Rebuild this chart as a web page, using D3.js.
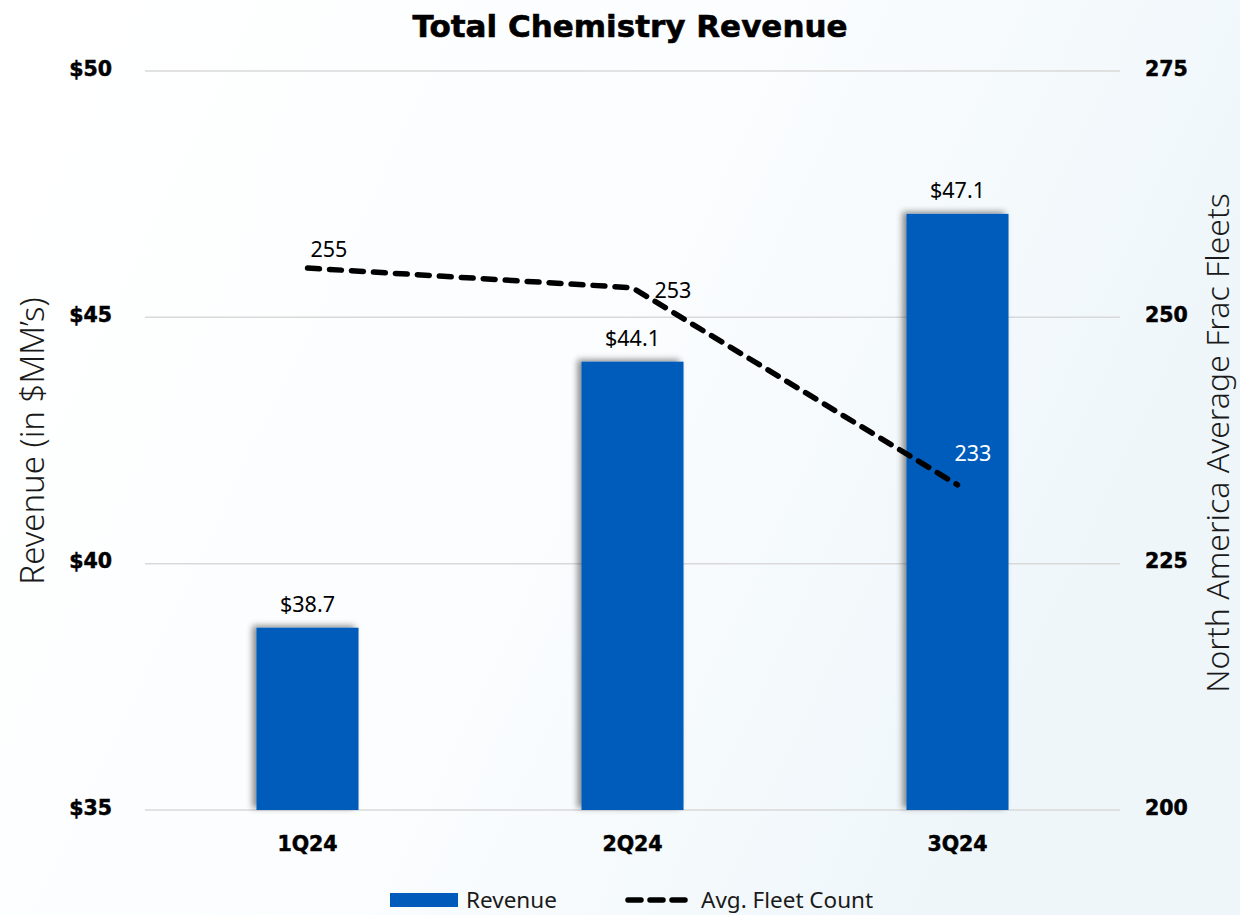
<!DOCTYPE html>
<html>
<head>
<meta charset="utf-8">
<script src="https://cdn.jsdelivr.net/npm/d3@7/dist/d3.min.js"></script>
<style>
  html, body { margin: 0; padding: 0; }
  body { width: 1240px; height: 915px; overflow: hidden; }
</style>
</head>
<body>
<svg id="chart" width="1240" height="915"></svg>
<script>
// Quarterly chemistry revenue ($MM) and North America average frac fleet count
const quarters = ["1Q24", "2Q24", "3Q24"];
const revenue = [38.7, 44.1, 47.1];
const fleetCount = [255, 253, 233];
const revenueTicks = [35, 40, 45, 50];
const fleetTicks = [200, 225, 250, 275];

const svg = d3.select("#chart");
const W = 1240, H = 915;
const m = { left: 145, right: 1120, top: 71, bottom: 810 };

const defs = svg.append("defs");
const bg = defs.append("linearGradient").attr("id", "bg")
  .attr("x1", "0").attr("y1", "0").attr("x2", "1").attr("y2", "0.35");
bg.append("stop").attr("offset", "0").attr("stop-color", "#ffffff");
bg.append("stop").attr("offset", "0.55").attr("stop-color", "#fbfdfe");
bg.append("stop").attr("offset", "1").attr("stop-color", "#eef6fa");

const shadow = defs.append("filter").attr("id", "barShadow")
  .attr("x", "-20%").attr("y", "-10%").attr("width", "140%").attr("height", "120%");
shadow.append("feDropShadow").attr("dx", -4).attr("dy", -2)
  .attr("stdDeviation", 3).attr("flood-color", "#000").attr("flood-opacity", 0.45);

svg.append("rect").attr("width", W).attr("height", H).attr("fill", "url(#bg)");

const x = d3.scaleBand().domain(quarters).range([m.left, m.right]).paddingInner(0.686).paddingOuter(0.343);
const yL = d3.scaleLinear().domain([35, 50]).range([m.bottom, m.top]);
const yR = d3.scaleLinear().domain([200, 275]).range([m.bottom, m.top]);

const tickFont = "'DejaVu Sans', 'Lato', sans-serif";
const labelFont = "'Noto Sans', 'Open Sans', sans-serif";

// Gridlines
svg.append("g").selectAll("line").data(revenueTicks).join("line")
  .attr("x1", m.left).attr("x2", m.right)
  .attr("y1", d => yL(d)).attr("y2", d => yL(d))
  .attr("stroke", "#d9d9d9").attr("stroke-width", 1.5);

// Left axis
const leftAxis = svg.append("g").attr("transform", `translate(${m.left},0)`)
  .call(d3.axisLeft(yL).tickValues(revenueTicks).tickFormat(d => "$" + d).tickSize(0).tickPadding(33));
leftAxis.select(".domain").remove();
leftAxis.selectAll("text").attr("font-family", tickFont).attr("font-weight", 700)
  .attr("font-size", 20.5).attr("fill", "#000").attr("dy", "0.2em")
  .attr("stroke", "#000").attr("stroke-width", 0.5);

// Right axis
const rightAxis = svg.append("g").attr("transform", `translate(${m.right},0)`)
  .call(d3.axisRight(yR).tickValues(fleetTicks).tickSize(0).tickPadding(25));
rightAxis.select(".domain").remove();
rightAxis.selectAll("text").attr("font-family", tickFont).attr("font-weight", 700)
  .attr("font-size", 20.5).attr("fill", "#000").attr("dy", "0.2em")
  .attr("stroke", "#000").attr("stroke-width", 0.5);

// Bottom axis
const bottomAxis = svg.append("g").attr("transform", `translate(0,${m.bottom})`)
  .call(d3.axisBottom(x).tickSize(0).tickPadding(26));
bottomAxis.select(".domain").remove();
bottomAxis.selectAll("text").attr("font-family", tickFont).attr("font-weight", 700)
  .attr("font-size", 20.5).attr("fill", "#000")
  .attr("stroke", "#000").attr("stroke-width", 0.5);

// Bars
svg.append("g").selectAll("rect").data(quarters).join("rect")
  .attr("x", d => x(d)).attr("width", x.bandwidth())
  .attr("y", (d, i) => yL(revenue[i]))
  .attr("height", (d, i) => yL(35) - yL(revenue[i]))
  .attr("fill", "#005bbb").attr("filter", "url(#barShadow)");

// Bar value labels
svg.append("g").selectAll("text").data(quarters).join("text")
  .attr("x", d => x(d) + x.bandwidth() / 2)
  .attr("y", (d, i) => yL(revenue[i]) - 16)
  .attr("text-anchor", "middle")
  .attr("font-family", labelFont).attr("font-size", 21.5).attr("fill", "#000")
  .text((d, i) => "$" + revenue[i].toFixed(1));

// Fleet count line
const line = d3.line()
  .x((d, i) => x(quarters[i]) + x.bandwidth() / 2)
  .y(d => yR(d));
svg.append("path").datum(fleetCount)
  .attr("d", line).attr("fill", "none")
  .attr("stroke", "#000").attr("stroke-width", 5.5)
  .attr("stroke-dasharray", "12,10").attr("stroke-linecap", "round");

// Fleet count labels
const fleetLabelOffsets = [[3, -11], [22, 10], [-3, -24]];
const fleetLabelColors = ["#000", "#000", "#fff"];
svg.append("g").selectAll("text").data(fleetCount).join("text")
  .attr("x", (d, i) => x(quarters[i]) + x.bandwidth() / 2 + fleetLabelOffsets[i][0])
  .attr("y", (d, i) => yR(d) + fleetLabelOffsets[i][1])
  .attr("font-family", labelFont).attr("font-size", 21.5)
  .attr("fill", (d, i) => fleetLabelColors[i])
  .text(d => d);

// Title
svg.append("text").attr("x", 630).attr("y", 37).attr("text-anchor", "middle")
  .attr("font-family", tickFont).attr("font-weight", 700).attr("font-size", 31)
  .attr("fill", "#000").attr("stroke", "#000").attr("stroke-width", 0.6)
  .text("Total Chemistry Revenue");

// Axis titles
svg.append("text").attr("transform", "translate(44,441) rotate(-90)")
  .attr("text-anchor", "middle").attr("font-family", labelFont).attr("font-weight", 300)
  .attr("font-size", 33).attr("fill", "#1a1a1a").text("Revenue (in $MM\u2019s)");
svg.append("text").attr("transform", "translate(1229,443) rotate(-90)")
  .attr("text-anchor", "middle").attr("font-family", labelFont).attr("font-weight", 300)
  .attr("font-size", 32).attr("fill", "#1a1a1a").text("North America Average Frac Fleets");

// Legend
const legend = svg.append("g");
legend.append("rect").attr("x", 390).attr("y", 893).attr("width", 68).attr("height", 14).attr("fill", "#005bbb");
legend.append("text").attr("x", 466).attr("y", 908).attr("font-family", labelFont)
  .attr("font-size", 22.5).attr("fill", "#1a1a1a").text("Revenue");
legend.append("line").attr("x1", 628).attr("x2", 686).attr("y1", 900).attr("y2", 900)
  .attr("stroke", "#000").attr("stroke-width", 5.5)
  .attr("stroke-dasharray", "13,9").attr("stroke-linecap", "round");
legend.append("text").attr("x", 701).attr("y", 908).attr("font-family", labelFont)
  .attr("font-size", 22.5).attr("fill", "#1a1a1a").text("Avg. Fleet Count");
</script>
</body>
</html>
